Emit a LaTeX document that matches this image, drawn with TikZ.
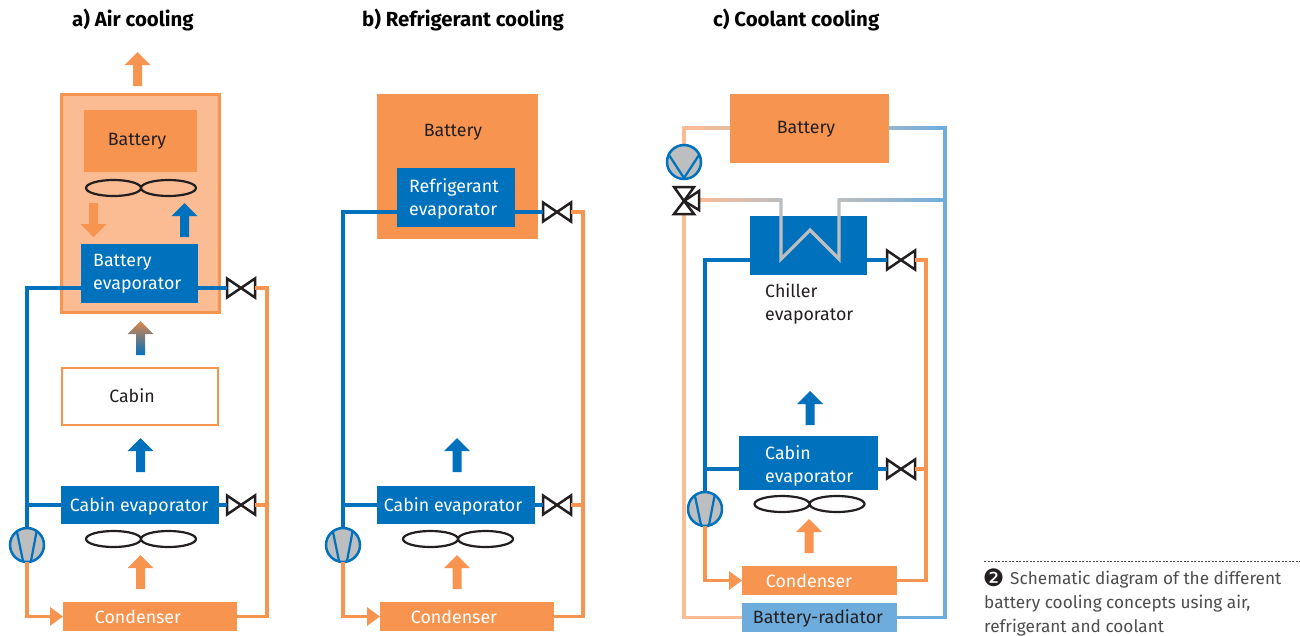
\documentclass[tikz,border=0pt]{standalone}
\usepackage{fontspec}
\setmainfont{Fira Sans}
\newfontfamily\symfont{DejaVu Sans}
\usetikzlibrary{arrows.meta,calc}
\definecolor{orng}{HTML}{F79550}
\definecolor{pale}{HTML}{FBBC94}
\definecolor{pipeblue}{HTML}{0071BC}
\definecolor{lblue}{HTML}{6DACDD}
\definecolor{cgray}{HTML}{BCBEC0}
\definecolor{ink}{HTML}{231F20}
\definecolor{captxt}{HTML}{4D4D4F}
\tikzset{
  box/.style={rectangle,inner sep=0pt,outer sep=0pt,fill=#1},
  lab/.style={font=\fontsize{17.8}{23}\selectfont,inner sep=0pt,align=left,yshift=-1.5pt},
  title/.style={font=\fontsize{20.4}{24}\selectfont\bfseries,inner sep=0pt,anchor=west,text=black,yshift=-0.5pt},
  pipeB/.style={draw=pipeblue,line width=3.2pt},
  pipeO/.style={draw=orng,line width=3.2pt},
  pipeP/.style={draw=pale,line width=3.2pt},
  pipeL/.style={draw=lblue,line width=3.2pt},
  pipeG/.style={draw=cgray,line width=3.2pt},
  headarrow/.style={-{Triangle[length=13pt,width=18pt]}},
  compressor/.style={circle,draw=pipeblue,fill=cgray,line width=2.5pt,minimum size=34pt,inner sep=0pt,outer sep=0pt},
  valvebox/.style={rectangle,minimum width=28pt,minimum height=19pt,inner sep=0pt,outer sep=0pt},
  valveline/.style={draw=ink,fill=white,line width=2.5pt,line join=miter},
  fanline/.style={draw=ink,line width=2.2pt},
}
\newcommand\valve[2]{%
  \node[valvebox] (#1) at (#2) {};
  \path[valveline] (#1.north west)--(#1.south east)--(#1.north east)--(#1.south west)--cycle;}
\newcommand\fan[2]{%
  \path[fanline,shift={(#1,#2)}] (-27.5,0) ellipse [x radius=27.5,y radius=8]
       (27.5,0) ellipse [x radius=27.5,y radius=8];}
\newcommand\compr[2]{%
  \node[compressor] (#1) at (#2) {};
  \draw[draw=pipeblue,line width=2.2pt,shift={(#1)}] (-10,-13)--(-4,16) (9.5,-13)--(4,16);}
% centre x, tip y, direction (+1 points up, -1 down), colour options
\newcommand\flowarrow[4]{%
  \path[#4,shift={(#1,#2)},yscale=#3] (0,0)--(13,13)--(4.5,13)--(4.5,34)--(-4.5,34)--(-4.5,13)--(-13,13)--cycle;}
\newcommand\gradh[4]{% from, to, colours
  \shade[left color=#3,right color=#4] ($(#1)+(0,-1.6)$) rectangle ($(#2)+(0,1.6)$);}
\begin{document}
\begin{tikzpicture}[x=1pt,y=-1pt]
\useasboundingbox[fill=white] (0,0) rectangle (1300,635);

% ---------- titles
\node[title] (ta) at (72,19) {a) Air cooling};
\node[title] (tb) at (362,19) {b) Refrigerant cooling};
\node[title] (tc) at (713,19) {c) Coolant cooling};

% ---------- panel a
\node[rectangle,draw=orng,fill=pale,line width=3pt,minimum width=158pt,minimum height=218pt,inner sep=0pt] (aouter) at (140.5,203.5) {};
\node[box=orng,minimum width=113pt,minimum height=62pt] (abatt) at (140.5,141) {};
\node[box=pipeblue,minimum width=117pt,minimum height=59pt] (aevap) at (139.5,273.5) {};
\node[rectangle,draw=orng,fill=white,line width=2pt,minimum width=156pt,minimum height=57pt,inner sep=0pt] (acabin) at (140,396.5) {};
\node[box=pipeblue,minimum width=158pt,minimum height=38pt] (acevap) at (140,505) {};
\node[box=orng,minimum width=174pt,minimum height=29pt] (acond) at (150,616.5) {};
\valve{av1}{241,288}
\valve{av2}{241,505}
\compr{acomp}{27,545}
\coordinate (arail) at (267,616.5);
\draw[pipeB] (acomp.north) |- (av1 -| aevap.west);
\draw[pipeB] (acomp.north |- av2) -- (av2 -| acevap.west);
\draw[pipeB] (av1 -| aevap.east) -- (av1.west);
\draw[pipeB] (av2 -| acevap.east) -- (av2.west);
\draw[pipeO] (av1.east) -| (arail) -- (acond.east);
\draw[pipeO] (av2.east) -- (av2 -| arail);
\draw[pipeO,headarrow] (acomp.south) |- (acond.west);
\node[lab,text=ink] (abt) at (137,140) {Battery};
\node[lab,text=white,anchor=west] (aet) at (93,272.5) {Battery\\evaporator};
\node[lab,text=ink] (act) at (132,394.5) {Cabin};
\node[lab,text=white] (acet) at (139,505) {Cabin evaporator};
\node[lab,text=white] (acot) at (138,615.5) {Condenser};
\fan{141}{188}
\fan{141}{539}
\flowarrow{137.5}{52}{1}{fill=orng}
\flowarrow{93.5}{237}{-1}{fill=orng}
\flowarrow{184.5}{203}{1}{fill=pipeblue}
\shade[top color=orng!90!black,bottom color=pipeblue,shift={(140.5,321)}] (0,0)--(13,13)--(4.5,13)--(4.5,34)--(-4.5,34)--(-4.5,13)--(-13,13)--cycle;
\flowarrow{140.5}{438}{1}{fill=pipeblue}
\flowarrow{140.5}{555}{1}{fill=orng}

% ---------- panel b
\node[box=orng,minimum width=161pt,minimum height=145pt] (bbatt) at (457.5,166.5) {};
\node[box=pipeblue,minimum width=118pt,minimum height=59pt] (bevap) at (456,197.5) {};
\node[box=pipeblue,minimum width=158pt,minimum height=38pt] (bcevap) at (456,505) {};
\node[box=orng,minimum width=174pt,minimum height=29pt] (bcond) at (467,616.5) {};
\valve{bv1}{557,212}
\valve{bv2}{557,505}
\compr{bcomp}{343,545}
\coordinate (brail) at (583,616.5);
\draw[pipeB] (bcomp.north) |- (bv1 -| bevap.west);
\draw[pipeB] (bcomp.north |- bv2) -- (bv2 -| bcevap.west);
\draw[pipeB] (bv1 -| bevap.east) -- (bv1.west);
\draw[pipeB] (bv2 -| bcevap.east) -- (bv2.west);
\draw[pipeO] (bv1.east) -| (brail) -- (bcond.east);
\draw[pipeO] (bv2.east) -- (bv2 -| brail);
\draw[pipeO,headarrow] (bcomp.south) |- (bcond.west);
\node[lab,text=ink] (bbt) at (453,131) {Battery};
\node[lab,text=white,anchor=west] (bet) at (409,197) {Refrigerant\\evaporator};
\node[lab,text=white] (bcet) at (453,505) {Cabin evaporator};
\node[lab,text=white] (bcot) at (454,615.5) {Condenser};
\fan{458}{539}
\flowarrow{457}{438}{1}{fill=pipeblue}
\flowarrow{457}{555}{1}{fill=orng}

% ---------- panel c
\node[box=orng,minimum width=159pt,minimum height=69pt] (cbatt) at (809.5,128.5) {};
\node[box=pipeblue,minimum width=117pt,minimum height=59pt] (cevap) at (808.5,245.5) {};
\node[box=pipeblue,minimum width=139pt,minimum height=54pt] (ccevap) at (808.5,463) {};
\node[box=orng,minimum width=155pt,minimum height=29pt] (ccond) at (819.5,580.5) {};
\node[box=lblue,minimum width=155pt,minimum height=29pt] (crad) at (819.5,617.5) {};
\coordinate (cTL) at (684,128);
\coordinate (cTR) at (945,128);
\coordinate (cBL) at (684,617.5);
\coordinate (cBR) at (945,617.5);
\coordinate (cMR) at (945,200);
\coordinate (cZ1) at (781,200);
\coordinate (cZ2) at (781,259);
\coordinate (cZ3) at (810,230);
\coordinate (cZ4) at (839,259);
\coordinate (cZ5) at (839,200);
\coordinate (cV) at (699,200);
% coolant loop
\draw[pipeP] (684,126.4) -- (684,162);
\draw[pipeP] (684,214) -- (cBL) -- (crad.west |- cBL);
\draw[pipeL] (945,126.4) -- (cBR) -- (crad.east |- cBR);
\gradh{cTL}{cbatt.west |- cTL}{pale}{pale!65!cgray}
\gradh{cbatt.east |- cTR}{cTR}{cgray!50!lblue}{lblue}
\gradh{cV}{cZ1}{pale}{cgray}
\gradh{cZ5}{cMR}{cgray}{lblue}
% refrigerant
\valve{cv1}{901,260}
\valve{cv2}{901,469}
\compr{ccomp}{705,509}
\coordinate (crail) at (926,580.5);
\draw[pipeB] (ccomp.north) |- (cv1 -| cevap.west);
\draw[pipeB] (ccomp.north |- cv2) -- (cv2 -| ccevap.west);
\draw[pipeB] (cv1 -| cevap.east) -- (cv1.west);
\draw[pipeB] (cv2 -| ccevap.east) -- (cv2.west);
\draw[pipeO] (cv1.east) -| (crail) -- (ccond.east);
\draw[pipeO] (cv2.east) -- (cv2 -| crail);
\draw[pipeO,headarrow] (ccomp.south) |- (ccond.west);
% heat exchanger over the chiller
\draw[pipeG,line join=miter] ($(cZ1)+(0,-1.6)$) -- (cZ2) -- (cZ3) -- (cZ4) -- ($(cZ5)+(0,-1.6)$);
% pump
\node[compressor] (cpump) at (684,162) {};
\draw[draw=pipeblue,line width=2.2pt] (669,155)--(684,178)--(699,155);
% three-way valve
\coordinate (cVc) at (684,201);
\path[valveline] (674,187)--(694,187)--(cVc)--cycle;
\path[valveline] (674,214)--(694,214)--(cVc)--cycle;
\path[valveline] (699,191)--(699,210)--(cVc)--cycle;
\node[lab,text=ink] (cbt) at (806,128) {Battery};
\node[lab,text=ink,anchor=west] (cet) at (765,302) {Chiller\\evaporator};
\node[lab,text=white,anchor=west] (ccet) at (765,464) {Cabin\\evaporator};
\node[lab,text=white] (ccot) at (809,579.5) {Condenser};
\node[lab,text=ink] (crt) at (818,617) {Battery-radiator};
\fan{809.5}{504}
\flowarrow{810}{391}{1}{fill=pipeblue}
\flowarrow{809}{519}{1}{fill=orng}

% ---------- caption
\coordinate (capL) at (984,561);
\coordinate (capR) at (1300,561);
\draw[draw=captxt,line width=1pt,dash pattern=on 2pt off 1.5pt] (capL) -- (capR);
\node[inner sep=0pt,text=ink,font=\symfont\fontsize{24}{24}\selectfont] (capn) at (993.5,577.5) {❷};
\node[inner sep=0pt,anchor=north west,align=left,text=captxt,font=\fontsize{17.2}{24}\selectfont] (capt) at (984,571) {\hspace{26pt}Schematic diagram of the different\\battery cooling concepts using air,\\refrigerant and coolant};
\end{tikzpicture}
\end{document}
